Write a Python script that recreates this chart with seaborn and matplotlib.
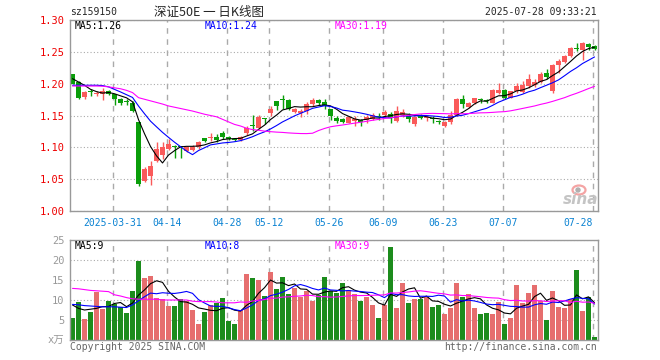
import numpy as np
import pandas as pd
import matplotlib
matplotlib.use("Agg")
import matplotlib.pyplot as plt
from matplotlib.patches import Ellipse
import seaborn as sns

# daily candles, 2025-03-20 .. 2025-07-28 (88 trading days)
opens = [1.2146, 1.2026, 1.1791, 1.1875, 1.1833, 1.1838, 1.1885, 1.1833, 1.1765, 1.1710,
         1.1702, 1.1400, 1.0476, 1.0544, 1.0789, 1.0878, 1.0972, 1.1013, 1.1005, 1.0946,
         1.0961, 1.1013, 1.1144, 1.1145, 1.1170, 1.1222, 1.1170, 1.1125, 1.1110, 1.1222,
         1.1352, 1.1311, 1.1455, 1.1535, 1.1723, 1.1750, 1.1739, 1.1556, 1.1535, 1.1572,
         1.1676, 1.1739, 1.1713, 1.1598, 1.1468, 1.1452, 1.1389, 1.1415, 1.1426, 1.1426,
         1.1452, 1.1485, 1.1504, 1.1520, 1.1415, 1.1504, 1.1494, 1.1363, 1.1505, 1.1453,
         1.1445, 1.1405, 1.1338, 1.1391, 1.1505, 1.1755, 1.1640, 1.1692, 1.1750, 1.1732,
         1.1703, 1.1849, 1.1896, 1.1781, 1.1885, 1.1870, 1.1963, 1.1974, 1.2026, 1.2161,
         1.1885, 1.2286, 1.2344, 1.2432, 1.2545, 1.2521, 1.2630, 1.2599]
closes = [1.2000, 1.1781, 1.1870, 1.1865, 1.1859, 1.1885, 1.1833, 1.1765, 1.1702, 1.1705,
          1.1572, 1.0430, 1.0658, 1.0700, 1.0972, 1.1013, 1.1050, 1.1005, 1.0998, 1.1013,
          1.1013, 1.1076, 1.1092, 1.1154, 1.1118, 1.1170, 1.1128, 1.1118, 1.1170, 1.1300,
          1.1342, 1.1483, 1.1448, 1.1609, 1.1650, 1.1744, 1.1598, 1.1598, 1.1572, 1.1676,
          1.1744, 1.1692, 1.1650, 1.1494, 1.1415, 1.1400, 1.1483, 1.1441, 1.1400, 1.1478,
          1.1504, 1.1480, 1.1556, 1.1468, 1.1572, 1.1556, 1.1441, 1.1483, 1.1453, 1.1475,
          1.1440, 1.1400, 1.1401, 1.1505, 1.1765, 1.1677, 1.1692, 1.1771, 1.1745, 1.1729,
          1.1901, 1.1901, 1.1781, 1.1885, 1.1963, 1.1974, 1.2068, 1.2026, 1.2146, 1.2109,
          1.2286, 1.2354, 1.2432, 1.2563, 1.2540, 1.2641, 1.2578, 1.2547]
highs = [1.2150, 1.2037, 1.1885, 1.1911, 1.1885, 1.1937, 1.1900, 1.1840, 1.1781, 1.1755,
         1.1729, 1.1400, 1.0685, 1.0789, 1.1076, 1.1076, 1.1128, 1.1040, 1.1013, 1.1020,
         1.1030, 1.1102, 1.1150, 1.1222, 1.1207, 1.1259, 1.1185, 1.1150, 1.1180, 1.1337,
         1.1504, 1.1504, 1.1462, 1.1650, 1.1730, 1.1817, 1.1755, 1.1624, 1.1598, 1.1713,
         1.1781, 1.1755, 1.1765, 1.1600, 1.1494, 1.1460, 1.1490, 1.1494, 1.1452, 1.1504,
         1.1545, 1.1535, 1.1588, 1.1556, 1.1650, 1.1609, 1.1535, 1.1494, 1.1520, 1.1495,
         1.1495, 1.1432, 1.1410, 1.1573, 1.1781, 1.1817, 1.1713, 1.1781, 1.1771, 1.1755,
         1.1911, 1.2005, 1.1911, 1.1890, 1.2016, 1.2042, 1.2156, 1.2068, 1.2182, 1.2224,
         1.2302, 1.2391, 1.2443, 1.2573, 1.2641, 1.2651, 1.2641, 1.2615]
lows = [1.1990, 1.1755, 1.1755, 1.1807, 1.1807, 1.1744, 1.1817, 1.1666, 1.1666, 1.1661,
        1.1556, 1.0397, 1.0460, 1.0408, 1.0763, 1.0815, 1.0961, 1.0826, 1.0830, 1.0930,
        1.0950, 1.0972, 1.1076, 1.1102, 1.1076, 1.1128, 1.1110, 1.1100, 1.1100, 1.1191,
        1.1259, 1.1285, 1.1363, 1.1494, 1.1588, 1.1598, 1.1588, 1.1535, 1.1483, 1.1520,
        1.1650, 1.1661, 1.1609, 1.1431, 1.1379, 1.1390, 1.1380, 1.1337, 1.1337, 1.1389,
        1.1431, 1.1431, 1.1483, 1.1389, 1.1400, 1.1483, 1.1400, 1.1337, 1.1440, 1.1417,
        1.1375, 1.1365, 1.1312, 1.1365, 1.1495, 1.1625, 1.1625, 1.1677, 1.1692, 1.1703,
        1.1692, 1.1833, 1.1755, 1.1775, 1.1859, 1.1849, 1.1937, 1.1953, 1.2016, 1.2078,
        1.1859, 1.2172, 1.2328, 1.2422, 1.2510, 1.2370, 1.2536, 1.2526]
# volume in 万
volumes = [5.6, 9.6, 5.25, 7.1, 12.0, 7.75, 9.8, 9.0, 8.3, 6.8,
           12.25, 19.75, 15.5, 16.1, 10.4, 10.3, 8.5, 8.5, 10.3, 9.8,
           7.5, 4.0, 7.1, 8.7, 9.3, 10.5, 4.8, 4.0, 7.5, 16.5,
           15.4, 15.0, 11.0, 17.0, 12.75, 15.75, 11.5, 13.0, 10.8, 12.3,
           9.75, 11.3, 15.75, 12.25, 11.8, 14.3, 12.5, 11.5, 9.8, 10.7,
           8.75, 5.6, 8.75, 23.3, 8.1, 14.3, 9.3, 10.25, 10.25, 10.8,
           8.25, 8.75, 6.6, 8.1, 14.3, 10.8, 11.6, 8.1, 6.6, 6.8,
           6.6, 9.6, 4.1, 5.6, 13.8, 9.3, 11.8, 13.8, 9.8, 4.9,
           12.25, 8.3, 8.1, 10.25, 17.5, 7.3, 10.8, 0.8]

# moving-average values at the left edge (they depend on days before the window)
ma5_start = [1.2078, 1.2026, 1.1974, 1.1911]
ma10_start = [1.1975, 1.1975, 1.1975, 1.1975, 1.1975, 1.1970, 1.1950, 1.1910, 1.1870]
ma30_start = [1.1963, 1.1963, 1.1963, 1.1963, 1.1963, 1.1960, 1.1950, 1.1935, 1.1920, 1.1895,
              1.1860, 1.1780, 1.1755, 1.1730, 1.1705, 1.1680, 1.1650, 1.1630, 1.1610, 1.1590,
              1.1570, 1.1545, 1.1520, 1.1500, 1.1480, 1.1440, 1.1400, 1.1360, 1.1335]
vma5_start = [8.75, 7.9, 7.5, 7.7]
vma10_start = [8.9, 8.8, 8.6, 8.5, 8.4, 8.3, 8.3, 8.3, 8.2]
vma30_start = [12.9, 12.8, 12.6, 12.4, 12.3, 12.2, 12.1, 11.3, 11.0, 10.6,
               10.3, 10.2, 10.2, 10.2, 10.2, 10.0, 10.0, 10.0, 10.0, 10.0,
               9.7, 9.6, 9.6, 9.6, 9.5, 9.3, 9.3, 9.3, 9.5]

tick_days = [7, 16, 26, 33, 43, 52, 62, 72, 87]
tick_labels = ['2025-03-31', '04-14', '04-28', '05-12', '05-26', '06-09', '06-23', '07-07', '07-28']

RED = '#fa5a5a'
GREEN = '#0a9e0a'
GRID = '#aaaaaa'
W, H = 660, 360


def moving_average(values, window, start):
    serie = pd.Series(values, dtype=float).rolling(window).mean()
    serie.iloc[:len(start)] = start
    return serie.to_numpy()


def px(x, y):
    return x / W, 1 - y / H


df = pd.DataFrame({'day': np.arange(len(closes)), 'open': opens, 'close': closes,
                   'high': highs, 'low': lows, 'volume': volumes})
df['trend'] = np.where(df['close'] >= df['open'], 'up', 'down')
colors = df['trend'].map({'up': RED, 'down': GREEN})

sns.set_style('white')
plt.rcParams['font.family'] = ['DejaVu Sans Mono', 'Noto Sans CJK SC']
plt.rcParams['font.size'] = 7

fig = plt.figure(figsize=(6.6, 3.6), dpi=100)
ax = fig.add_axes([70 / W, 1 - 211 / H, 528 / W, 191 / H])
axv = fig.add_axes([70 / W, 1 - 340 / H, 528 / W, 100 / H])

# candles
ax.vlines(df['day'], df['low'], df['high'], colors=colors, lw=1)
body_low = np.minimum(df['open'], df['close'])
body_h = np.maximum((df['close'] - df['open']).abs(), 0.0016)
ax.bar(df['day'], body_h, bottom=body_low, width=0.8, color=colors, lw=0)

ma_lines = [(moving_average(closes, 5, ma5_start), 'black'),
            (moving_average(closes, 10, ma10_start), '#0000ff'),
            (moving_average(closes, 30, ma30_start), '#ff00ff')]
for vals, c in ma_lines:
    sns.lineplot(x=df['day'], y=vals, ax=ax, color=c, lw=0.8)

# volume
sns.barplot(data=df, x='day', y='volume', hue='trend', palette={'up': RED, 'down': GREEN},
            dodge=False, width=0.8, errorbar=None, legend=False, linewidth=0, ax=axv,
            native_scale=True)
vma_lines = [(moving_average(volumes, 5, vma5_start), 'black'),
             (moving_average(volumes, 10, vma10_start), '#0000ff'),
             (moving_average(volumes, 30, vma30_start), '#ff00ff')]
for vals, c in vma_lines:
    sns.lineplot(x=df['day'], y=vals, ax=axv, color=c, lw=0.8)

tick_pos = np.array(tick_days) - 0.3
for a in (ax, axv):
    a.set_xlim(-0.42, 87.58)
    a.set_xlabel('')
    a.set_ylabel('')
    a.set_xticks(tick_pos)
    a.xaxis.grid(True, linestyle=(0, (4, 4)), color=GRID, lw=1)
    a.yaxis.grid(True, linestyle=(0, (1, 2)), color=GRID, lw=0.8)
    a.tick_params(length=0)
    for s in a.spines.values():
        s.set_color('#999999')
        s.set_linewidth(1)

ax.set_ylim(1.00, 1.30)
ax.set_yticks(np.arange(1.00, 1.301, 0.05))
ax.set_yticklabels([f'{v:.2f}' for v in np.arange(1.00, 1.301, 0.05)], color='#ee0000', fontsize=7.5)
ax.set_xticklabels(tick_labels, color='#0a82d2', fontsize=7)
ax.tick_params(axis='x', pad=5)
ax.tick_params(axis='y', pad=4)
lbls = ax.get_xticklabels()
lbls[-1].set_horizontalalignment('right')
lbls[-1].set_x(tick_pos[-1])

axv.set_ylim(0, 25)
axv.set_yticks([0, 5, 10, 15, 20, 25])
axv.set_yticklabels(['x万', '5', '10', '15', '20', '25'], color='#999999', fontsize=7.5)
axv.set_xticklabels([])
axv.tick_params(axis='y', pad=4)

# header and labels
fig.text(*px(70, 12), 'sz159150', va='center', ha='left', fontsize=7)
fig.text(*px(209, 12), '深证50E 一 日K线图', va='center', ha='center', fontsize=9,
         family=['Noto Sans CJK SC', 'DejaVu Sans'])
fig.text(*px(597, 12), '2025-07-28 09:33:21', va='center', ha='right', fontsize=7)

fig.text(*px(75, 26), 'MA5:1.26', va='center', color='black', fontsize=7)
fig.text(*px(205, 26), 'MA10:1.24', va='center', color='#0000ff', fontsize=7)
fig.text(*px(335, 26), 'MA30:1.19', va='center', color='#ff00ff', fontsize=7)
fig.text(*px(75, 246), 'MA5:9', va='center', color='black', fontsize=7)
fig.text(*px(205, 246), 'MA10:8', va='center', color='#0000ff', fontsize=7)
fig.text(*px(335, 246), 'MA30:9', va='center', color='#ff00ff', fontsize=7)

fig.text(*px(70, 347), 'Copyright 2025 SINA.COM', va='center', color='#666666', fontsize=7)
fig.text(*px(597, 347), 'http://finance.sina.com.cn', va='center', ha='right', color='#666666', fontsize=7)

# sina watermark
fig.text(*px(581, 200), 'sina', va='center', ha='center', color='#c4c4c4', fontsize=11,
         fontweight='bold', style='italic', family='DejaVu Sans')
fig.patches.append(Ellipse(px(579, 190), 13 / W, 9 / H, transform=fig.transFigure,
                           fill=False, edgecolor='#f4a4a4', lw=1.6))
fig.patches.append(Ellipse(px(578, 190), 4 / W, 4 / H, transform=fig.transFigure,
                           color='#b0b0b0'))

fig.savefig('out.png', dpi=100)
plt.close(fig)
